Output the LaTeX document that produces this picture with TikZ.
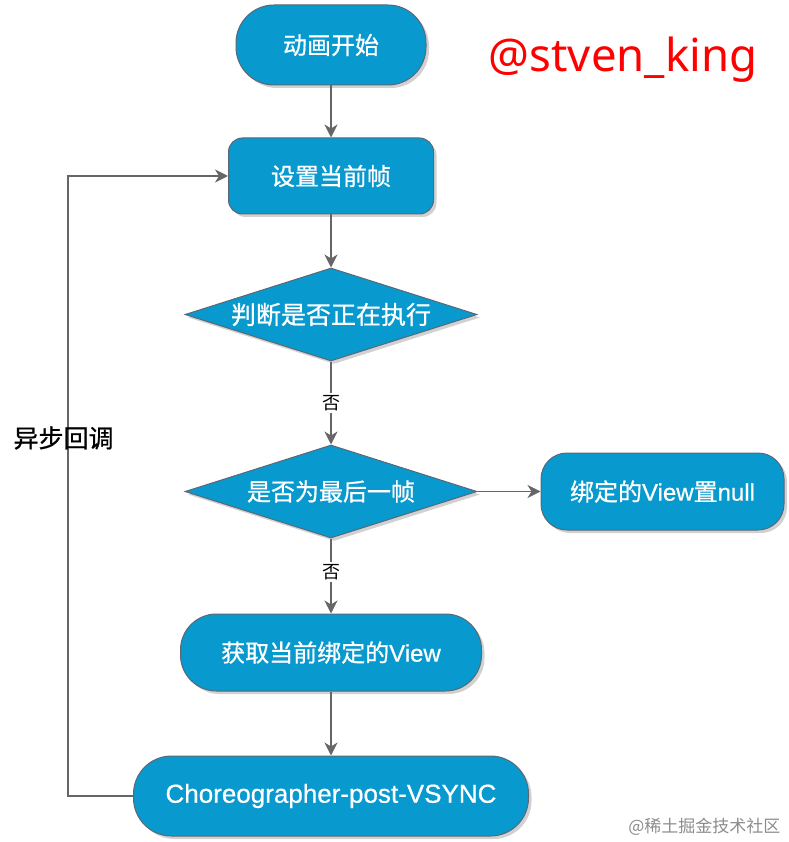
\documentclass[tikz,border=0pt]{standalone}
\usepackage{fontspec}
\setmainfont{Liberation Sans}
\newfontfamily\cjk[FakeBold=0.8]{Noto Sans CJK SC}
\newfontfamily\cjklight{Noto Sans CJK SC}
\newfontfamily\latin[FakeBold=0.6]{Liberation Sans}
\newfontfamily\notosans{Noto Sans}
\usetikzlibrary{arrows.meta,positioning,shapes.geometric,shadows}
\definecolor{flowblue}{RGB}{8,153,206}
\definecolor{edgegray}{RGB}{102,102,102}
\definecolor{bordergray}{RGB}{90,104,118}
\tikzset{>=Stealth}
\tikzset{
  base/.style={draw=bordergray, line width=1pt, fill=flowblue, text=white, align=center, inner sep=0pt,
    font=\cjk\fontsize{24}{28}\selectfont,
    drop shadow={shadow xshift=3pt, shadow yshift=-3pt, fill=black!18, opacity=1}},
  term/.style={base, rounded corners=38pt, minimum height=80pt},
  proc/.style={base, rounded corners=14pt, minimum height=76pt},
  decision/.style={base, diamond, aspect=3.14, minimum width=292pt, minimum height=93pt},
  arrow/.style={-{Stealth[length=13pt,width=13pt,inset=4pt]}, draw=edgegray, line width=1.6pt},
  nolabel/.style={fill=white, text=black, inner sep=2pt, font=\cjklight\fontsize{18}{20}\selectfont},
}

\begin{document}
\begin{tikzpicture}[x=1pt, y=1pt, node distance=52pt]
\useasboundingbox (0,0) rectangle (788,-842);

\node[term, minimum width=190pt] (start) at (331,-45) {动画开始};
\node[proc, minimum width=205pt, below=52pt of start] (setframe) {设置当前帧};
\node[decision, below=53pt of setframe, font=\cjk\fontsize{25}{28}\selectfont] (running) {判断是否正在执行};
\node[decision, below=83pt of running] (lastframe) {是否为最后一帧};
\node[proc, rounded corners=26pt, minimum width=243pt, minimum height=77pt, right=63pt of lastframe] (clearview) {绑定的{\latin View}置{\latin null}};
\node[proc, rounded corners=36pt, minimum width=301pt, minimum height=77pt, below=75pt of lastframe] (getview) {获取当前绑定的{\latin View}};
\node[term, minimum width=395pt, below=64pt of getview, font=\latin\fontsize{26}{28}\selectfont] (vsync) {Choreographer-post-VSYNC};

\draw[arrow] (start) -- (setframe);
\draw[arrow] (setframe) -- (running);
\draw[arrow] (running) -- node[nolabel] (no1) {否} (lastframe);
\draw[arrow] (lastframe) -- (clearview);
\draw[arrow] (lastframe) -- node[nolabel, pos=0.45] (no2) {否} (getview);
\draw[arrow] (getview) -- (vsync);

% callback loop
\coordinate (loopx) at (68,0);
\draw[arrow] (vsync.west) -- (vsync.west -| loopx) |- (setframe.west);
\node[anchor=west, font=\cjk\fontsize{25}{28}\selectfont] (async) at (10,-438) {异步回调};

\node[text=red, font=\notosans\fontsize{45.5}{50}\selectfont] (author) at (623,-60) {@stven\_king};
\node[anchor=east, text=black!45, font=\cjklight\fontsize{17}{20}\selectfont] (site) at (784,-827) {@稀土掘金技术社区};
\end{tikzpicture}
\end{document}
